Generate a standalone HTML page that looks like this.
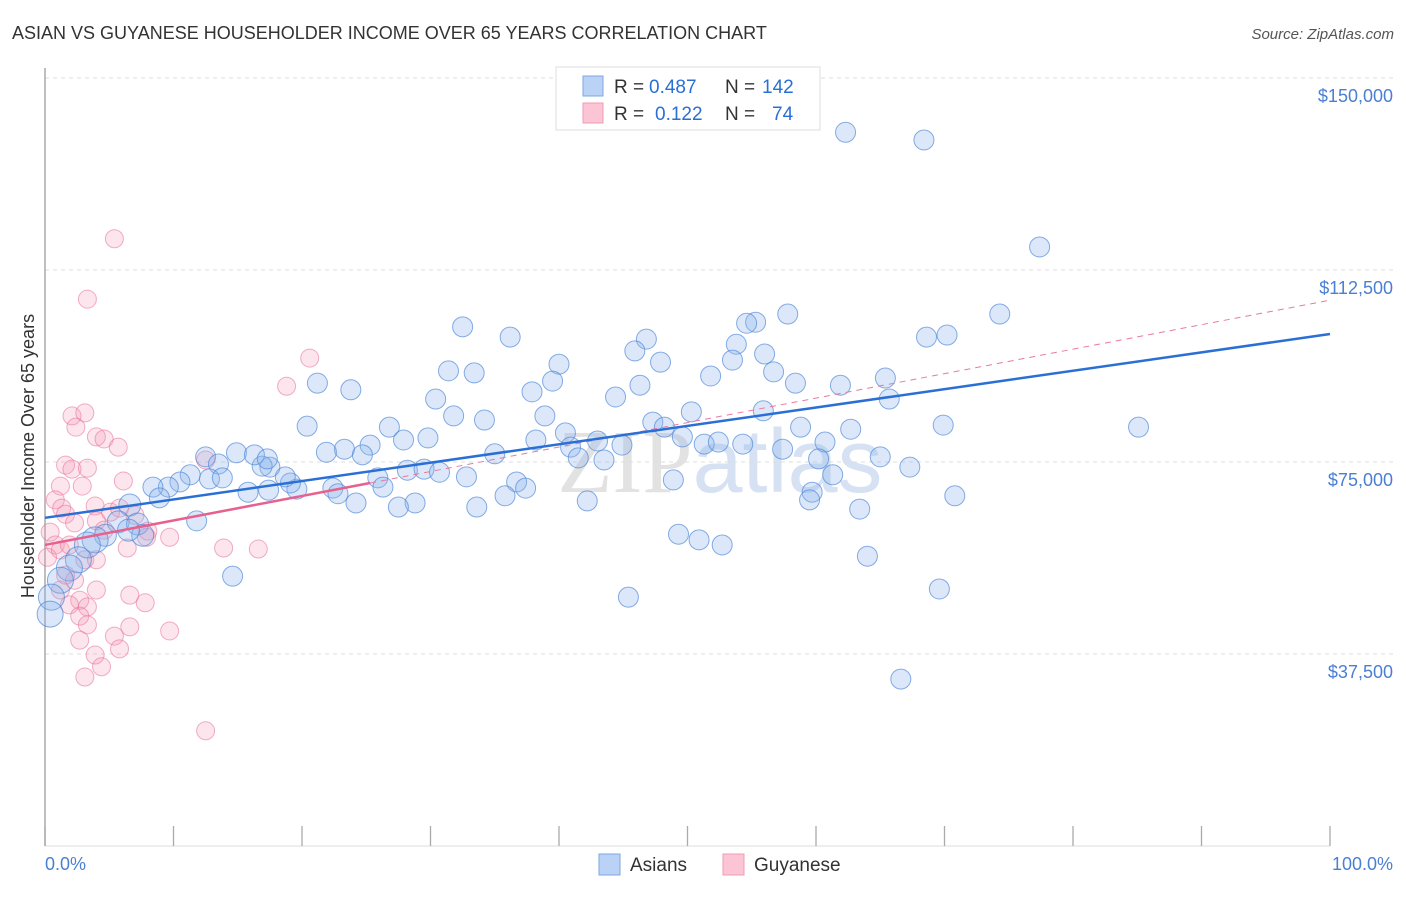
<!DOCTYPE html>
<html><head><meta charset="utf-8"><style>
body{margin:0;background:#fff;font-family:"Liberation Sans",sans-serif}
</style></head><body>
<svg width="1406" height="892" xmlns="http://www.w3.org/2000/svg" font-family="Liberation Sans, sans-serif">
<text x="12" y="39" font-size="18" fill="#333">ASIAN VS GUYANESE HOUSEHOLDER INCOME OVER 65 YEARS CORRELATION CHART</text>
<text x="1394" y="39" font-size="15" fill="#555" font-style="italic" text-anchor="end">Source: ZipAtlas.com</text>
<text x="720" y="492" font-size="90" fill="#e2e2e2" text-anchor="middle" font-family="Liberation Serif, serif">ZIP<tspan fill="#d6e2f3" font-family="Liberation Sans, sans-serif">atlas</tspan></text>
<g id="grid"></g><g id="pts"></g><g id="trend"></g>
<text transform="translate(34,456) rotate(-90)" font-size="18" fill="#333" text-anchor="middle">Householder Income Over 65 years</text>
<text x="45" y="870" font-size="18" fill="#4a7fd4">0.0%</text>
<text x="1393" y="870" font-size="18" fill="#4a7fd4" text-anchor="end">100.0%</text>
<g>
<rect x="556" y="67" width="264" height="63" fill="#fff" stroke="#ddd"/>
<rect x="583" y="76" width="20" height="20" fill="#b9d2f5" stroke="#7ea7e6"/>
<rect x="583" y="103" width="20" height="20" fill="#fbc5d5" stroke="#f09ab5"/>
<text x="614" y="93" font-size="19" fill="#333">R =</text>
<text x="649" y="93" font-size="19" fill="#2a6fd6">0.487</text>
<text x="725" y="93" font-size="19" fill="#333">N =</text>
<text x="762" y="93" font-size="19" fill="#2a6fd6">142</text>
<text x="614" y="120" font-size="19" fill="#333">R =</text>
<text x="655" y="120" font-size="19" fill="#2a6fd6">0.122</text>
<text x="725" y="120" font-size="19" fill="#333">N =</text>
<text x="772" y="120" font-size="19" fill="#2a6fd6">74</text>
</g>
<g>
<rect x="599" y="854" width="21" height="21" fill="#b9d2f5" stroke="#7ea7e6"/>
<text x="630" y="871" font-size="19" fill="#333">Asians</text>
<rect x="723" y="854" width="21" height="21" fill="#fbc5d5" stroke="#f09ab5"/>
<text x="754" y="871" font-size="19" fill="#333">Guyanese</text>
</g>
</svg>
<script>
const yTicks=[37500,75000,112500,150000];
const yTickLabels=["$37,500","$75,000","$112,500","$150,000"];
const asianX=[62.3,68.4,77.4,74.3,85.1,57.8,55.3,54.6,68.6,70.2,53.8,56,53.5,46.8,45.9,47.9,40,36.2,32.5,31.4,33.4,39.5,37.9,46.3,51.8,56.7,58.4,61.9,65.4,65.7,21.2,23.8,30.4,31.8,34.2,38.9,44.4,50.3,55.9,47.3,48.2,49.6,51.3,52.4,58.8,60.7,62.7,69.9,20.4,26.8,25.3,23.3,21.9,24.7,27.9,29.8,38.2,40.5,40.9,43,41.5,43.5,44.9,54.3,57.4,60.2,65,67.3,61.3,35,28.2,29.5,30.7,32.8,25.9,36.7,37.4,48.9,59.7,59.5,63.4,70.8,35.8,42.2,33.6,28.8,27.5,24.2,22.4,22.8,26.3,19.6,19.1,17.4,18.7,17.5,16.9,14.9,16.3,17.3,12.5,13.5,12.8,13.8,11.3,10.5,9.6,8.4,8.9,15.8,11.8,6.6,5.7,7.2,7.6,6.5,4.7,3.9,3.3,2.6,1.9,1.2,0.5,0.4,14.6,49.3,50.9,52.7,64,45.4,69.6,66.6];
const asianY=[139.4,137.9,117,103.9,81.8,103.9,102.3,102.1,99.4,99.8,98,96.1,94.9,99,96.7,94.5,94.1,99.4,101.4,92.8,92.4,90.8,88.7,90,91.8,92.6,90.4,90,91.4,87.3,90.4,89.1,87.3,84,83.2,84,87.7,84.8,85,82.8,81.8,79.9,78.5,78.9,81.8,78.9,81.4,82.2,82,81.8,78.3,77.5,76.9,76.4,79.3,79.7,79.3,80.7,77.9,79.1,75.8,75.4,78.3,78.5,77.5,75.6,76,74,72.5,76.6,73.4,73.6,73,72.1,71.9,71.1,69.9,71.5,69.1,67.6,65.8,68.4,68.4,67.4,66.2,67,66.2,67,69.9,68.8,70.1,69.7,70.9,69.5,72.1,74,74.2,76.8,76.4,75.6,76,74.6,71.7,71.9,72.5,71.1,70.1,70.1,68,69.1,63.5,66.6,63.3,62.9,60.7,61.7,60.7,59.8,58.8,55.9,54.3,51.9,48.6,45.3,52.7,60.9,59.8,58.8,56.6,48.6,50.2,32.6];
const guyX=[5.4,3.3,20.6,18.8,2.1,3.1,2.4,4,4.6,5.7,1.6,2.1,3.3,6.1,2.9,1.2,0.8,1.3,1.6,3.9,4,5.1,4.6,2.3,0.4,0.8,0.2,1.2,1.9,3.1,4,1.6,2.3,1.2,2.7,1.9,3.3,4,6.6,7.8,2.7,3.3,3.9,4.4,3.1,2.7,5.4,5.8,6.6,9.7,12.5,13.9,16.6,8,7,7.9,5.8,12.5,9.7,6.4];
const guyY=[118.6,106.8,95.3,89.8,84,84.6,81.8,79.9,79.5,77.9,74.4,73.6,73.8,71.3,70.3,70.3,67.6,66,64.8,66.4,63.5,65.2,61.7,63.1,61.3,58.8,56.4,57.8,58.8,55.9,55.9,52.9,51.9,50,48,47.1,46.7,50,49,47.5,44.9,43.2,37.3,35,33,40.2,41,38.5,42.8,42,22.5,58.2,58,61.5,64.6,60.3,66,75.4,60.3,58.2];
const asianTrend=[64.1,100];
const guyTrend=[58.8,106.6];
const guySolidEnd=25.3;
const X=v=>45+v*12.85;
function Yv(v){return 846-v/37500*192;}
function Yk(k){return Yv(k*1000);}
const NS="http://www.w3.org/2000/svg";
function mk(t,a,p){const e=document.createElementNS(NS,t);for(const k in a)e.setAttribute(k,a[k]);p.appendChild(e);return e;}
const grid=document.getElementById('grid');
yTicks.forEach((t,i)=>{
 const l=mk('line',{x1:45,x2:1393,y1:Yv(t),y2:Yv(t),stroke:'#ddd','stroke-dasharray':'4,4'},grid);
 
 
 const tx=mk('text',{x:1393,y:Yv(t)+24,'font-size':18,fill:'#4a7fd4','text-anchor':'end'},grid);
 tx.textContent=yTickLabels[i];
 
 
});
const ax=mk('line',{x1:45,x2:45,y1:68,y2:846,stroke:'#aaa','stroke-width':1.5},grid);


const bx=mk('line',{x1:45,x2:1330,y1:846,y2:846,stroke:'#ddd'},grid);


for(let i=0;i<=10;i++){const t=mk('line',{x1:X(i*10),x2:X(i*10),y1:826,y2:846,stroke:'#aaa','stroke-width':1.3},grid);
 
 }
const pts=document.getElementById('pts');
guyX.forEach((x,i)=>{const c=mk('circle',{cx:X(x),cy:Yk(guyY[i]),r:9,fill:'rgba(244,150,180,0.25)',stroke:'rgba(232,110,150,0.55)','stroke-width':1},pts);
 
 });
asianX.forEach((x,i)=>{const big=x<4?13:(x<8?11:10);const c=mk('circle',{cx:X(x),cy:Yk(asianY[i]),r:big,fill:'rgba(140,180,235,0.3)',stroke:'rgba(70,130,215,0.65)','stroke-width':1},pts);
 
 });
const tr=document.getElementById('trend');
const gAt=v=>guyTrend[0]+(guyTrend[1]-guyTrend[0])*v/100;
let l1=mk('line',{x1:X(guySolidEnd),y1:Yk(gAt(guySolidEnd)),x2:X(100),y2:Yk(gAt(100)),stroke:'#e87aa0','stroke-width':1,'stroke-dasharray':'6,5'},tr);


let l2=mk('line',{x1:X(0),y1:Yk(asianTrend[0]),x2:X(100),y2:Yk(asianTrend[1]),stroke:'#2a6fd6','stroke-width':2.5},tr);


let l3=mk('line',{x1:X(0),y1:Yk(gAt(0)),x2:X(guySolidEnd),y2:Yk(gAt(guySolidEnd)),stroke:'#e8608e','stroke-width':2.5},tr);


</script>
</body></html>
